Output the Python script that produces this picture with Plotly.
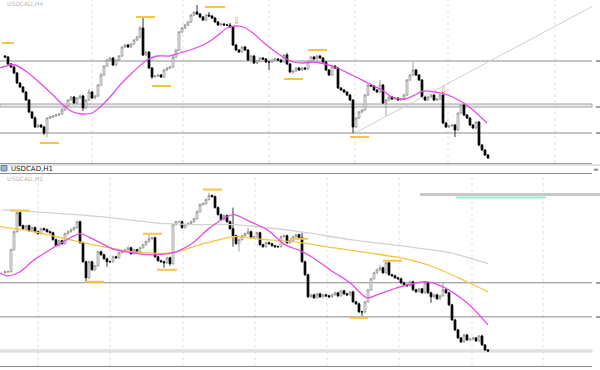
import plotly.graph_objects as go

# ================= USDCAD,H4 (upper panel) =================
h4_first_open = 114
h4_close = [
    113, 106, 103, 97, 87, 83, 78, 70, 58, 52, 43, 45, 43, 37, 52, 53, 54, 55,
    56, 60, 64, 70, 73, 67, 72, 74, 62, 70, 78, 72, 74, 85, 95, 104, 110, 112,
    105, 110, 114, 123, 125, 123, 126, 130, 133, 142, 115, 118, 102, 93, 94, 95, 93, 100,
    102, 103, 113, 120, 138, 142, 145, 148, 155, 158, 156, 153, 150, 155, 154, 152, 148, 145,
    146, 145, 145, 143, 125, 120, 118, 123, 120, 110, 114, 107, 109, 112, 111, 108, 108, 110,
    111, 110, 108, 115, 106, 98, 99, 102, 100, 102, 101, 108, 113, 111, 114, 112, 108, 100,
    95, 104, 102, 82, 80, 78, 75, 70, 43, 52, 58, 60, 75, 85, 84, 80, 78, 85,
    67, 70, 73, 71, 72, 70, 71, 75, 90, 95, 100, 95, 90, 73, 70, 73, 75, 70,
    71, 75, 47, 43, 44, 45, 40, 57, 65, 55, 52, 45, 42, 48, 25, 20, 15, 12,
]
h4_upper_wick = [
    1, 1, 1, 1, 1, 1, 1, 1, 1, 1, 2, 1, 1, 1, 1, 1, 1, 1,
    1, 2, 1, 1, 1, 1, 1, 1, 1, 1, 3, 1, 1, 1, 2, 1, 1, 1,
    1, 1, 1, 1, 1, 1, 1, 1, 1, 2, 11, 1, 1, 1, 1, 1, 1, 1,
    1, 1, 1, 1, 1, 1, 1, 1, 1, 1, 7, 1, 1, 1, 3, 1, 1, 1,
    1, 1, 1, 2, 1, 1, 1, 1, 1, 1, 1, 1, 1, 1, 1, 1, 1, 1,
    1, 1, 1, 1, 2, 1, 1, 1, 1, 1, 1, 1, 1, 1, 1, 1, 1, 1,
    1, 1, 1, 1, 1, 1, 1, 1, 1, 1, 1, 1, 1, 2, 1, 1, 1, 5,
    1, 1, 1, 1, 1, 1, 1, 1, 1, 1, 8, 1, 1, 1, 1, 1, 1, 1,
    1, 1, 3, 1, 1, 1, 1, 1, 1, 1, 1, 1, 1, 1, 1, 1, 1, 1,
]
h4_lower_wick = [
    1, 1, 1, 1, 1, 1, 1, 1, 1, 1, 1, 1, 1, 2, 4, 1, 1, 1,
    1, 1, 1, 1, 1, 1, 1, 1, 3, 1, 1, 1, 1, 1, 1, 1, 1, 1,
    1, 1, 1, 1, 1, 1, 1, 1, 1, 1, 1, 1, 1, 2, 1, 1, 1, 1,
    1, 1, 1, 1, 1, 1, 1, 1, 1, 1, 1, 1, 1, 1, 1, 1, 1, 1,
    1, 1, 1, 1, 1, 1, 1, 1, 1, 1, 1, 1, 1, 1, 1, 1, 8, 1,
    1, 1, 1, 1, 1, 1, 2, 1, 1, 1, 1, 1, 1, 1, 1, 1, 1, 1,
    1, 1, 1, 1, 1, 1, 1, 1, 6, 1, 1, 1, 1, 1, 1, 1, 1, 1,
    1, 13, 1, 1, 1, 1, 1, 1, 1, 1, 1, 1, 1, 1, 1, 1, 1, 1,
    1, 1, 1, 1, 1, 1, 7, 1, 1, 1, 1, 1, 1, 1, 1, 1, 1, 1,
]
h4_ma_x = [-1.67, 1.67, 3.33, 7.33, 11.67, 16, 19.33, 22.67, 26, 29, 31.67, 35, 38.33,
           42.67, 47.33, 50.67, 55, 58.33, 62.67, 67.33, 70.67, 74, 76.67, 79.33, 82.67,
           86, 89.33, 92.67, 96, 99.33, 102.67, 106.67, 110, 115.67, 121, 125.67, 129,
           133.33, 136.67, 139.33, 143.33, 147.67, 152.33, 156, 160.67]
h4_ma_y = [102, 105, 105, 98, 87, 75, 65, 58, 56, 57, 63, 73, 85,
           98, 110, 114, 114, 117, 121, 127, 134, 142, 144, 143, 137,
           128, 120, 113, 108, 107, 108, 106, 103, 95, 87, 80, 73,
           71, 75, 79, 78, 75, 68, 60, 47]
h4_levels = [109, 37]
h4_zone = [63, 66]
h4_trend_x = [116.67, 196.67]
h4_trend_y = [37, 165]
h4_swing_x0 = [-1, 11.67, 43.67, 49, 66.67, 93, 101, 115]
h4_swing_x1 = [3, 18, 50, 55.33, 73.33, 99.33, 107.33, 121.33]
h4_swing_y = [127, 27, 153, 84, 163, 91, 120, 33]
h4_arrow_x = [77.33, 146.33]
h4_arrow_y = [149, 80]
h4_vgrid = [29, 59.33, 88, 116.67, 147.67, 183.33]

# ================= USDCAD,H1 (lower panel) =================
h1_first_open = 97
h1_close = [
    98, 98, 120, 138, 157, 144, 141, 144, 139, 142, 138, 136, 141, 140, 138, 137, 130, 124,
    129, 126, 136, 138, 140, 142, 148, 127, 108, 92, 108, 100, 104, 118, 115, 111, 108, 108,
    113, 112, 117, 118, 120, 122, 116, 120, 118, 122, 125, 128, 131, 132, 113, 109, 108, 107,
    112, 106, 145, 148, 148, 142, 145, 146, 148, 151, 158, 165, 166, 170, 174, 173, 162, 155,
    150, 154, 148, 141, 134, 126, 130, 134, 136, 138, 132, 133, 137, 125, 123, 127, 126, 124,
    123, 123, 133, 134, 127, 129, 133, 135, 132, 108, 95, 73, 75, 72, 76, 73, 75, 74,
    73, 75, 77, 74, 79, 76, 75, 78, 68, 66, 58, 58, 68, 80, 91, 97, 100, 102,
    97, 107, 95, 94, 92, 91, 87, 85, 84, 88, 80, 78, 81, 77, 87, 77, 73, 75,
    71, 74, 80, 77, 65, 50, 40, 32, 28, 35, 30, 31, 32, 29, 34, 25, 20, 19,
]
h1_upper_wick = [
    1, 1, 1, 1, 2, 1, 1, 1, 1, 1, 1, 1, 1, 1, 1, 1, 1, 1,
    1, 1, 1, 1, 1, 1, 1, 1, 1, 1, 1, 1, 1, 1, 1, 1, 1, 1,
    1, 1, 1, 1, 1, 1, 1, 1, 1, 1, 1, 1, 4, 1, 1, 1, 1, 1,
    1, 1, 1, 1, 1, 1, 1, 1, 1, 1, 1, 1, 1, 1, 3, 1, 1, 1,
    1, 1, 1, 1, 21, 1, 1, 1, 1, 4, 1, 1, 1, 1, 1, 1, 1, 1,
    1, 1, 1, 1, 1, 1, 1, 1, 1, 5, 1, 1, 1, 1, 1, 1, 1, 1,
    1, 1, 1, 1, 1, 1, 1, 1, 1, 1, 1, 1, 1, 1, 1, 1, 1, 3,
    1, 1, 1, 1, 1, 1, 1, 1, 1, 1, 1, 1, 1, 1, 1, 1, 1, 1,
    1, 1, 7, 1, 1, 1, 1, 1, 1, 1, 1, 1, 1, 1, 1, 1, 1, 1,
]
h1_lower_wick = [
    1, 1, 1, 1, 1, 1, 1, 1, 1, 1, 1, 1, 1, 1, 1, 1, 1, 1,
    1, 1, 1, 1, 1, 1, 1, 1, 1, 4, 1, 1, 1, 1, 1, 1, 5, 1,
    1, 1, 1, 1, 1, 1, 1, 1, 1, 1, 1, 1, 1, 1, 1, 1, 1, 5,
    1, 2, 1, 1, 1, 1, 1, 1, 1, 1, 1, 1, 1, 1, 1, 1, 1, 1,
    1, 1, 1, 1, 11, 1, 8, 1, 1, 1, 1, 1, 1, 1, 1, 1, 1, 1,
    1, 1, 1, 1, 1, 1, 1, 1, 1, 1, 1, 1, 1, 1, 1, 1, 1, 1,
    1, 1, 1, 1, 1, 1, 1, 1, 1, 1, 1, 4, 1, 1, 1, 1, 1, 1,
    1, 1, 1, 1, 1, 1, 1, 1, 1, 1, 1, 1, 1, 1, 1, 1, 6, 1,
    1, 1, 1, 1, 1, 1, 1, 1, 1, 1, 1, 1, 1, 1, 1, 1, 1, 1,
]
h1_fast_x = [-1.67, 0.67, 5, 9.33, 15, 20.67, 25, 28.33, 31.67, 36.67, 42.67, 47.33, 56,
             62.67, 68.33, 76, 81.67, 87.33, 93.33, 98.33, 102.67, 109.33, 115, 120.67,
             124, 131.67, 140.67, 146, 154, 161]
h1_fast_y = [97, 94, 98, 109, 120, 130, 136, 132, 127, 120, 117, 115, 117,
             127, 142, 155, 148, 140, 125, 119, 112, 98, 87, 72,
             75, 83, 88, 83, 67, 45]
h1_mid_x = [-1.67, 9.33, 26, 42.67, 56, 65, 71.67, 76, 87.33, 98.33, 109.33, 120.67,
            131.67, 142.67, 154, 161]
h1_mid_y = [143, 138, 127, 118, 117, 125, 130, 133, 130, 127, 122, 117,
            112, 103, 88, 78]
h1_slow_x = [-1, 31.67, 53.33, 65, 76, 98.33, 115, 131.67, 148.33, 161]
h1_slow_y = [160, 153, 146, 145, 145, 138, 130, 124, 117, 106]
h1_levels = [87, 53]
h1_zone = [18, 20]
h1_swing_x0 = [1.67, 26.67, 46, 50.67, 66, 95, 126, 115]
h1_swing_x1 = [8, 33, 52.33, 57.33, 72.33, 101, 132.33, 121]
h1_swing_y = [159, 88, 136, 100, 180, 131, 109, 52]
h1_vgrid = [11, 35, 59.33, 83.33, 107.33, 131.33, 155.67, 179.33]
h1_box_level = 175
h1_target_level = 172

X_RANGE = [-1.67, 195.67]


def build_ohlc(first_open, closes, up, dn):
    opens = [first_open] + closes[:-1]
    highs = [max(o, c) + u for o, c, u in zip(opens, closes, up)]
    lows = [min(o, c) - d for o, c, d in zip(opens, closes, dn)]
    return opens, highs, lows


def py2paper(px):
    return 1 - px / 370.0


fig = go.Figure()

candle_style = dict(
    increasing=dict(line=dict(color="#8c8c8c", width=0.8), fillcolor="#ffffff"),
    decreasing=dict(line=dict(color="#000000", width=0.8), fillcolor="#000000"),
    whiskerwidth=0, showlegend=False, hoverinfo="skip",
)

o, h, l = build_ohlc(h4_first_open, h4_close, h4_upper_wick, h4_lower_wick)
fig.add_trace(go.Candlestick(x=list(range(len(h4_close))), open=o, high=h, low=l,
                             close=h4_close, xaxis="x", yaxis="y", **candle_style))
fig.add_trace(go.Scatter(x=h4_trend_x, y=h4_trend_y, mode="lines", xaxis="x", yaxis="y",
                         line=dict(color="#cfcfcf", width=1), hoverinfo="skip", showlegend=False))
fig.add_trace(go.Scatter(x=h4_ma_x, y=h4_ma_y, mode="lines", xaxis="x", yaxis="y",
                         line=dict(color="#e64ce6", width=1.3, shape="spline", smoothing=0.8),
                         hoverinfo="skip", showlegend=False))

o, h, l = build_ohlc(h1_first_open, h1_close, h1_upper_wick, h1_lower_wick)
fig.add_trace(go.Scatter(x=h1_slow_x, y=h1_slow_y, mode="lines", xaxis="x2", yaxis="y2",
                         line=dict(color="#d2d2d2", width=1.3, shape="spline", smoothing=0.8),
                         hoverinfo="skip", showlegend=False))
fig.add_trace(go.Scatter(x=h1_mid_x, y=h1_mid_y, mode="lines", xaxis="x2", yaxis="y2",
                         line=dict(color="#f3c545", width=1.3, shape="spline", smoothing=0.8),
                         hoverinfo="skip", showlegend=False))
fig.add_trace(go.Candlestick(x=list(range(len(h1_close))), open=o, high=h, low=l,
                             close=h1_close, xaxis="x2", yaxis="y2", **candle_style))
fig.add_trace(go.Scatter(x=h1_fast_x, y=h1_fast_y, mode="lines", xaxis="x2", yaxis="y2",
                         line=dict(color="#e64ce6", width=1.3, shape="spline", smoothing=0.8),
                         hoverinfo="skip", showlegend=False))

shapes = []
# vertical dotted grid
for v in h4_vgrid:
    shapes.append(dict(type="line", xref="x", yref="y domain", x0=v, x1=v, y0=0, y1=1,
                       layer="below", line=dict(color="#e0e0e0", width=1, dash="dot")))
for v in h1_vgrid:
    shapes.append(dict(type="line", xref="x2", yref="y2 domain", x0=v, x1=v, y0=0, y1=1,
                       layer="below", line=dict(color="#e0e0e0", width=1, dash="dot")))
# zones
shapes.append(dict(type="rect", xref="x domain", yref="y", x0=0, x1=1, y0=h4_zone[0], y1=h4_zone[1],
                   layer="below", fillcolor="#ececec", line=dict(color="#a0a0a0", width=1)))
shapes.append(dict(type="rect", xref="x2 domain", yref="y2", x0=0, x1=1, y0=h1_zone[0], y1=h1_zone[1],
                   layer="below", fillcolor="#efefef", line=dict(color="#d4d4d4", width=1)))
# levels
for v in h4_levels:
    shapes.append(dict(type="line", xref="x domain", yref="y", x0=0, x1=1, y0=v, y1=v,
                       layer="below", line=dict(color="#8c8c8c", width=1)))
for v in h1_levels:
    shapes.append(dict(type="line", xref="x2 domain", yref="y2", x0=0, x1=1, y0=v, y1=v,
                       layer="below", line=dict(color="#8c8c8c", width=1)))
# swing markers
for a, b, v in zip(h4_swing_x0, h4_swing_x1, h4_swing_y):
    shapes.append(dict(type="line", xref="x", yref="y", x0=a, x1=b, y0=v, y1=v,
                       line=dict(color="#f6c445", width=2)))
for a, b, v in zip(h1_swing_x0, h1_swing_x1, h1_swing_y):
    shapes.append(dict(type="line", xref="x2", yref="y2", x0=a, x1=b, y0=v, y1=v,
                       line=dict(color="#f6c445", width=2)))
# top-right box/target lines in lower panel
shapes.append(dict(type="line", xref="paper", yref="y2", x0=420 / 600, x1=1.0,
                   y0=h1_box_level, y1=h1_box_level, line=dict(color="#c8c8c8", width=3)))
shapes.append(dict(type="line", xref="paper", yref="y2", x0=456 / 600, x1=546 / 600,
                   y0=h1_target_level, y1=h1_target_level, line=dict(color="#86e8cc", width=1.5)))
# separator between windows
shapes.append(dict(type="line", xref="paper", yref="paper", x0=0, x1=1,
                   y0=py2paper(165), y1=py2paper(165), line=dict(color="#c4c4c4", width=1)))
shapes.append(dict(type="rect", xref="paper", yref="paper", x0=1 / 600, x1=7 / 600,
                   y0=py2paper(171), y1=py2paper(165.5), fillcolor="#9db4d4",
                   line=dict(color="#5f7fa8", width=1)))
# price-scale stubs at right
for pyv in [61, 107, 133, 283, 317]:
    shapes.append(dict(type="line", xref="paper", yref="paper", x0=596 / 600, x1=1,
                       y0=py2paper(pyv), y1=py2paper(pyv), line=dict(color="#444444", width=1)))

annotations = [
    dict(xref="paper", yref="paper", x=5 / 600, y=py2paper(3), text="USDCAD,H4",
         showarrow=False, xanchor="left", yanchor="middle",
         font=dict(family="DejaVu Sans", size=6, color="#b8b8b8")),
    dict(xref="paper", yref="paper", x=9 / 600, y=py2paper(168.5), text="USDCAD,H1",
         showarrow=False, xanchor="left", yanchor="middle",
         font=dict(family="DejaVu Sans", size=7, color="#222222")),
    dict(xref="paper", yref="paper", x=5 / 600, y=py2paper(178), text="USDCAD,H1",
         showarrow=False, xanchor="left", yanchor="middle",
         font=dict(family="DejaVu Sans", size=6, color="#b8b8b8")),
    dict(xref="paper", yref="paper", x=596 / 600, y=py2paper(169.5), text="=",
         showarrow=False, xanchor="center", yanchor="middle",
         font=dict(family="DejaVu Sans", size=7, color="#555555")),
]
for ax_, ay_ in zip(h4_arrow_x, h4_arrow_y):
    annotations.append(dict(xref="x", yref="y", x=ax_, y=ay_, text="⇩", showarrow=False,
                            font=dict(family="DejaVu Sans", size=9, color="#e9866a")))

axis_common = dict(showgrid=False, zeroline=False, showticklabels=False, ticks="")

fig.update_layout(
    width=600, height=370, margin=dict(l=0, r=0, t=0, b=0),
    paper_bgcolor="#ffffff", plot_bgcolor="#ffffff", showlegend=False,
    boxgap=0.12, hovermode=False,
    xaxis=dict(domain=[0, 592 / 600], range=X_RANGE, anchor="y",
               rangeslider=dict(visible=False), showline=True, linecolor="#9a9a9a",
               linewidth=1, mirror=True, **axis_common),
    yaxis=dict(domain=[py2paper(163), 1], range=[7, 170], anchor="x", **axis_common),
    xaxis2=dict(domain=[0, 592 / 600], range=X_RANGE, anchor="y2",
                rangeslider=dict(visible=False), showline=True, linecolor="#8a8a8a",
                linewidth=1, mirror=True, **axis_common),
    yaxis2=dict(domain=[py2paper(366), py2paper(173.5)], range=[4, 196], anchor="x2",
                **axis_common),
    shapes=shapes, annotations=annotations,
)

fig.write_html("out.html")
